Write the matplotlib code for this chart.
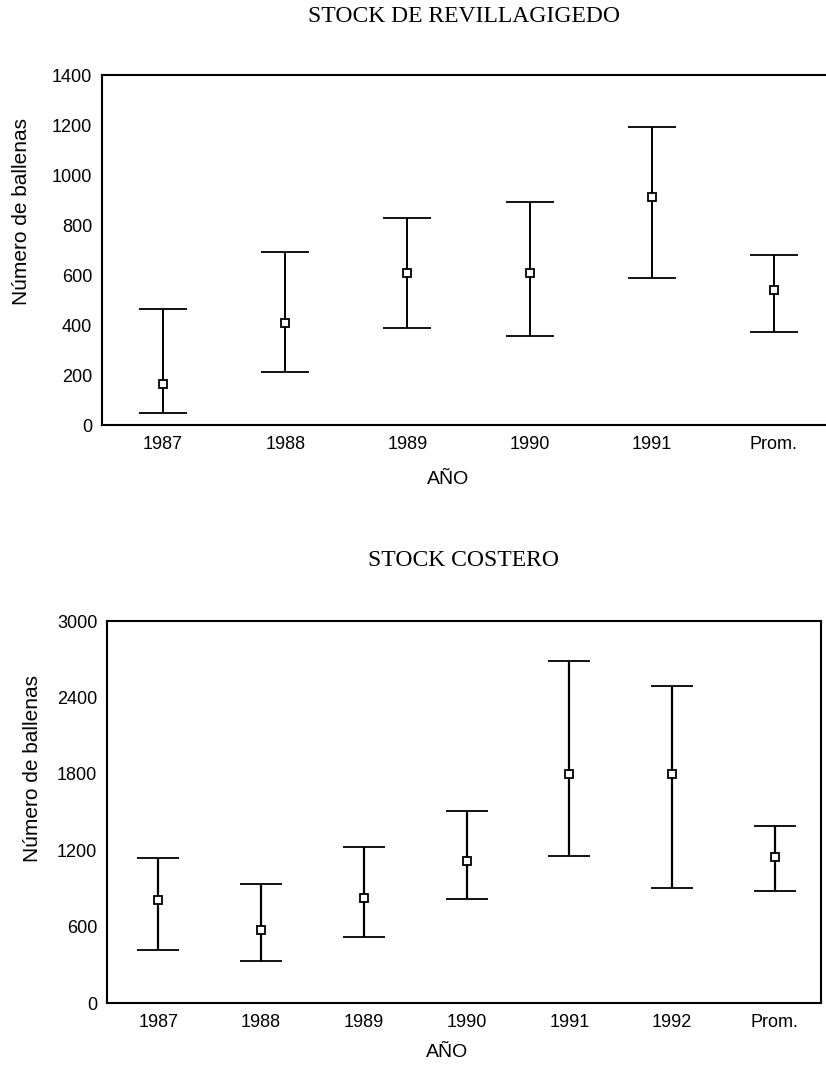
import matplotlib.pyplot as plt

# STOCK DE REVILLAGIGEDO
rev_labels = ["1987", "1988", "1989", "1990", "1991", "Prom."]
rev_mean = [163, 408, 607, 607, 913, 541]
rev_low = [47, 213, 389, 356, 589, 372]
rev_high = [465, 693, 829, 893, 1193, 679]

# STOCK COSTERO
cos_labels = ["1987", "1988", "1989", "1990", "1991", "1992", "Prom."]
cos_mean = [807, 571, 825, 1113, 1796, 1796, 1150]
cos_low = [419, 330, 518, 817, 1157, 903, 880]
cos_high = [1136, 932, 1225, 1505, 2684, 2493, 1390]

plt.rcParams['font.family'] = ['Liberation Sans', 'DejaVu Sans']

W, H = 826, 1069
fig = plt.figure(figsize=(W / 100, H / 100), dpi=100)


def panel(rect, labels, mean, low, high, ylim, yticks, title, title_y, capsize, lw):
    ax = fig.add_axes(rect)
    x = list(range(len(labels)))
    err = [[m - l for m, l in zip(mean, low)], [h - m for m, h in zip(mean, high)]]
    ax.errorbar(x, mean, yerr=err, fmt='s', color='black', ecolor='black',
                elinewidth=lw, capsize=capsize, capthick=lw,
                markersize=6, markerfacecolor='white', markeredgecolor='black',
                markeredgewidth=1.3)
    ax.set_xticks(x)
    ax.set_xticklabels(labels)
    ax.set_ylim(*ylim)
    ax.set_yticks(yticks)
    ax.tick_params(length=0, labelsize=13, pad=8)
    ax.tick_params(axis='y', pad=7)
    for s in ax.spines.values():
        s.set_linewidth(1.5)
    ax.set_xlabel("AÑO", fontsize=14)
    ax.set_ylabel("Número de ballenas", fontsize=15)
    fig.text(464 / W, 1 - title_y / H, title, ha='center', va='center',
             fontsize=17, family='Liberation Serif')
    return ax


# top axes spans 102..835 px (right edge is cut off by the page)
ax1 = panel([102 / W, 1 - 425 / H, (835 - 102) / W, 350 / H], rev_labels,
            rev_mean, rev_low, rev_high, (0, 1400), range(0, 1401, 200),
            "STOCK DE REVILLAGIGEDO", 17, 17, 1.4)
ax1.set_xlim(-0.5, 5.5)
ax1.yaxis.set_label_coords(-0.097, 0.61)
ax1.xaxis.set_label_coords(0.472, -0.13)

ax2 = panel([107 / W, 1 - 1003 / H, (821 - 107) / W, 382 / H], cos_labels,
            cos_mean, cos_low, cos_high, (0, 3000), range(0, 3001, 600),
            "STOCK COSTERO", 560, 15, 1.6)
ax2.set_xlim(-0.5, 6.45)
ax2.yaxis.set_label_coords(-0.091, 0.615)
ax2.xaxis.set_label_coords(0.476, -0.107)

fig.savefig("out.png", dpi=100)
